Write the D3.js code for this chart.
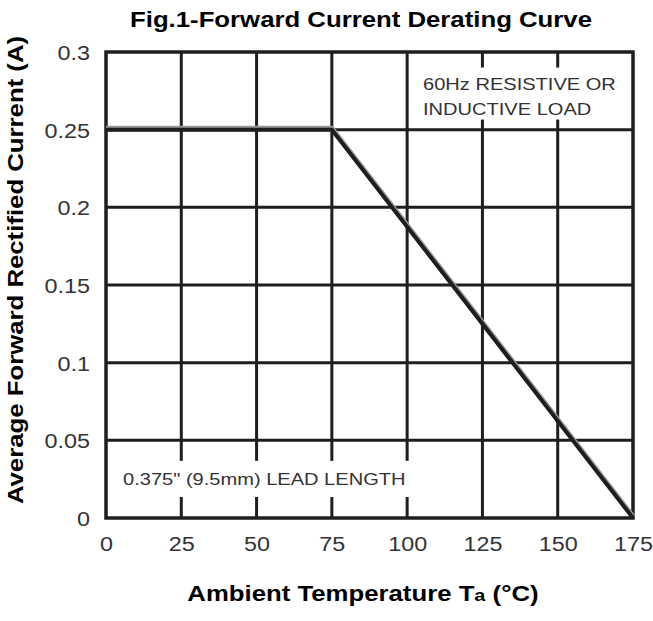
<!DOCTYPE html>
<html><head><meta charset="utf-8">
<script src="https://cdn.jsdelivr.net/npm/d3@7"></script>
<style>
html,body{margin:0;padding:0;background:#fff;}
svg{display:block;font-family:Arial,"Liberation Sans",sans-serif;}
</style></head><body>
<svg id="c" width="653" height="621"></svg>
<script>
// ---- data ----
const temperature = [0, 75, 175];          // °C
const current = [0.25, 0.25, 0];           // A
const xTicks = [0, 25, 50, 75, 100, 125, 150, 175];
const yTicks = [0, 0.05, 0.1, 0.15, 0.2, 0.25, 0.3];
const yTickLabels = ["0", "0.05", "0.1", "0.15", "0.2", "0.25", "0.3"];
const titleText = "Fig.1-Forward Current Derating Curve";
const yTitle = "Average Forward Rectified Current (A)";
const noteTop = ["60Hz RESISTIVE OR", "INDUCTIVE LOAD"];
const noteBottom = "0.375\" (9.5mm) LEAD LENGTH";

const svg = d3.select("#c");
const x = d3.scaleLinear().domain([0, 175]).range([106, 633]);
const y = d3.scaleLinear().domain([0, 0.3]).range([518, 52]);
const STRETCH = 1.17;
function stretch(sel, f) {
  sel.each(function () {
    const w = this.getComputedTextLength();
    d3.select(this).attr("textLength", w * (f || STRETCH)).attr("lengthAdjust", "spacingAndGlyphs");
  });
}
const ink = "#1e1e1e";

// grid
const g = svg.append("g");
g.selectAll(".vx").data(xTicks.slice(1, -1)).join("line")
  .attr("x1", d => x(d)).attr("x2", d => x(d)).attr("y1", y(0.3)).attr("y2", y(0))
  .attr("stroke", ink).attr("stroke-width", 3);
g.selectAll(".hy").data(yTicks.slice(1, -1)).join("line")
  .attr("y1", d => y(d)).attr("y2", d => y(d)).attr("x1", x(0)).attr("x2", x(175))
  .attr("stroke", ink).attr("stroke-width", 3);

// annotation backgrounds (cover grid)
svg.append("rect").attr("x", x(102)).attr("y", y(0.29)).attr("width", x(173.5) - x(102))
  .attr("height", y(0.2565) - y(0.29)).attr("fill", "#fff");
svg.append("rect").attr("x", x(2.7)).attr("y", y(0.0368)).attr("width", x(103.5) - x(2.7))
  .attr("height", y(0.0135) - y(0.0368)).attr("fill", "#fff");

// frame
svg.append("rect").attr("x", x(0)).attr("y", y(0.3)).attr("width", x(175) - x(0))
  .attr("height", y(0) - y(0.3)).attr("fill", "none").attr("stroke", ink).attr("stroke-width", 3.5);

// derating curve
const pts = temperature.map((t, i) => [t, current[i]]);
const line = d3.line().x(d => x(d[0])).y(d => y(d[1]));
svg.append("path").attr("d", line(pts)).attr("fill", "none").attr("stroke", "#999")
  .attr("stroke-width", 5).attr("transform", "translate(0,-1.5)");
svg.append("path").attr("d", line(pts)).attr("fill", "none").attr("stroke", ink)
  .attr("stroke-width", 4).attr("stroke-linejoin", "miter");

// axes tick labels
const xa = d3.axisBottom(x).tickValues(xTicks).tickSize(0).tickPadding(0).tickFormat(d3.format("d"));
const xg = svg.append("g").attr("transform", `translate(0,${y(0)})`).call(xa);
xg.select(".domain").remove();
xg.selectAll("text").attr("font-size", 20).attr("fill", "#333").attr("dy", null).attr("y", 33)
  .attr("font-family", "Arial, 'Liberation Sans', sans-serif").call(stretch);

const ya = d3.axisLeft(y).tickValues(yTicks).tickSize(0).tickPadding(0).tickFormat((d, i) => yTickLabels[i]);
const yg = svg.append("g").attr("transform", `translate(90,0)`).call(ya);
yg.select(".domain").remove();
yg.selectAll("text").attr("font-size", 20).attr("fill", "#333").attr("x", 0).attr("dy", "0.38em")
  .attr("font-family", "Arial, 'Liberation Sans', sans-serif").call(stretch);

// notes
svg.append("g").selectAll("text").data(noteTop).join("text")
  .attr("x", 423).attr("y", (d, i) => 90 + i * 25).attr("font-size", 17).attr("fill", "#333").text(d => d)
  .call(stretch, 1.18);
svg.append("text").attr("x", 123).attr("y", 485).attr("font-size", 17).attr("fill", "#333")
  .text(noteBottom).call(stretch, 1.18);

// titles
svg.append("text").attr("x", 361).attr("y", 27).attr("text-anchor", "middle")
  .attr("font-size", 22).attr("font-weight", "bold").attr("fill", "#000").text(titleText).call(stretch);

const xt = svg.append("text").attr("x", 363).attr("y", 601).attr("text-anchor", "middle")
  .attr("font-size", 22).attr("font-weight", "bold").attr("fill", "#000");
xt.append("tspan").text("Ambient Temperature T");
xt.append("tspan").attr("font-size", 17).text("a");
xt.append("tspan").text(" (°C)");
stretch(xt);

svg.append("text").attr("transform", "translate(23,270) rotate(-90)").attr("text-anchor", "middle")
  .attr("font-size", 22).attr("font-weight", "bold").attr("fill", "#000").text(yTitle).call(stretch);
</script>
</body></html>
